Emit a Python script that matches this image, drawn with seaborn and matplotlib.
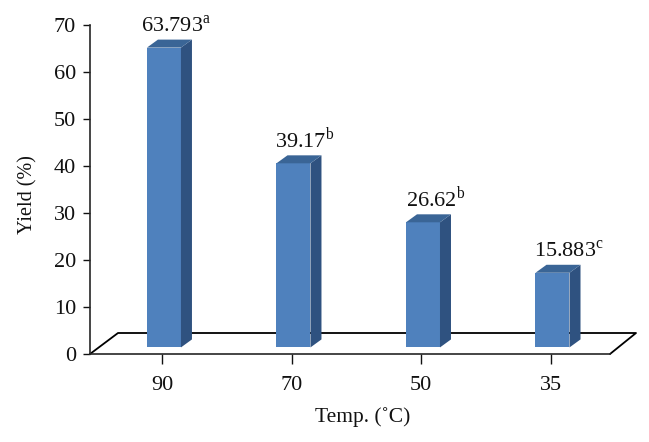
import matplotlib
matplotlib.use('Agg')
import matplotlib.pyplot as plt
from matplotlib.patches import Polygon
import pandas as pd
import seaborn as sns

temps = ['90', '70', '50', '35']
yields = [63.793, 39.17, 26.62, 15.883]
letters = ['a', 'b', 'b', 'c']
yticks = [0, 10, 20, 30, 40, 50, 60, 70]

sns.set_style('ticks')
plt.rcParams['font.family'] = ['Liberation Serif', 'DejaVu Serif']
plt.rcParams['mathtext.fontset'] = 'custom'
plt.rcParams['mathtext.rm'] = 'Liberation Serif'

W, H = 649, 442
fig = plt.figure(figsize=(W / 100, H / 100), dpi=100)
ax = fig.add_axes([90 / W, 1 - 354 / H, 520 / W, 329 / H])

df = pd.DataFrame({'temp': temps, 'yield': yields})
# bars stand on the floor, a little above the front edge of the axis
base = 1.4
sns.barplot(data=df, x='temp', y='yield', color='#4f81bd', saturation=1, width=0.2625,
            bottom=base, ax=ax, zorder=3, edgecolor='none')

ax.set_xlim(-0.571, 3.444)
ax.set_ylim(0, 70)

# fake 3d depth
dx, dy = 0.085, 1.7
label_shift = [0.095, 0.09, 0.1, 0.13]
for bar, val, letter, shift in zip(ax.patches, yields, letters, label_shift):
    x0 = bar.get_x()
    x1 = x0 + bar.get_width()
    y0 = bar.get_y()
    y1 = y0 + bar.get_height()
    ax.add_patch(Polygon([(x1, y0), (x1 + dx, y0 + dy), (x1 + dx, y1 + dy), (x1, y1)],
                         fc='#2f5280', ec='none', zorder=3, clip_on=False))
    ax.add_patch(Polygon([(x0, y1), (x0 + dx, y1 + dy), (x1 + dx, y1 + dy), (x1, y1)],
                         fc='#3a6596', ec='none', zorder=3, clip_on=False))
    ax.annotate(f'{val}$^{{\\mathrm{{{letter}}}}}$', (x0 + bar.get_width() / 2 + shift, y1),
                xytext=(0, 11), textcoords='offset points', ha='center', va='baseline',
                fontsize=16, color='#111111', zorder=4)

# floor outline
floor_x = [0, 28 / 520, 546 / 520, 1]
floor_y = [0, 21 / 329, 21 / 329, 0]
ax.plot(floor_x, floor_y, color='black', lw=1.3, transform=ax.transAxes, zorder=1, clip_on=False)

ax.set_xticks([i - 0.015 for i in range(len(temps))], temps)
ax.set_yticks(yticks)
ax.tick_params(axis='x', length=7, width=1, pad=9, labelsize=16, colors='#111111')
ax.tick_params(axis='y', length=5, width=1, pad=5, labelsize=16, colors='#111111')
ax.set_xlabel('Temp. (˚C)', fontsize=15.5, color='#111111')
ax.set_ylabel('Yield (%)', fontsize=14.5, color='#111111')
ax.xaxis.set_label_coords(273 / 520, -53 / 329)
ax.yaxis.set_label_coords(-53 / 520, 159 / 329)
sns.despine(ax=ax)
for side in ['left', 'bottom']:
    ax.spines[side].set_linewidth(1.2)

fig.savefig('out.png', dpi=100)
